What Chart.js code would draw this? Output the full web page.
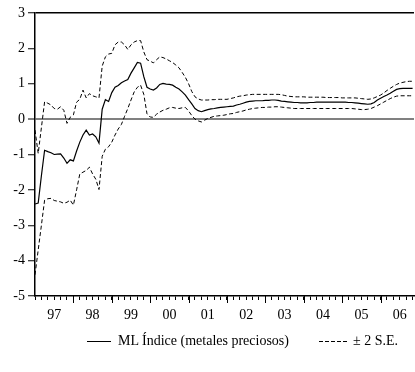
<!DOCTYPE html>
<html>
<head>
<meta charset="utf-8">
<script src="https://cdn.jsdelivr.net/npm/chart.js@4.4.1/dist/chart.umd.min.js"></script>
<style>
  html, body { margin: 0; padding: 0; background: #fff; }
  #wrap { position: relative; width: 415px; height: 372px; }
  #legend { position: absolute; right: 17px; top: 333px; display: flex; align-items: center;
            font-family: "Liberation Serif", "Times New Roman", serif; font-size: 14px; color: #000; white-space: nowrap; }
  .solid { display: inline-block; width: 24px; height: 0; border-top: 1px solid #000; margin-right: 7px; }
  .dash { display: inline-block; width: 28px; height: 1px; margin-right: 6px; margin-left: 30px;
          background: repeating-linear-gradient(to right, #000 0 4px, transparent 4px 6px); }
</style>
</head>
<body>
<div id="wrap">
  <canvas id="c" width="415" height="372"></canvas>
  <div id="legend"><span class="solid"></span><span>ML Índice (metales preciosos)</span><span class="dash"></span><span>± 2 S.E.</span></div>
</div>
<script>
// Monthly observations, 1997M01 .. 2006M11
const startYear = 1997;
const yearLabels = ["97","98","99","00","01","02","03","04","05","06"];
const yTicks = [-5,-4,-3,-2,-1,0,1,2,3];

const mlIndice = [
  -2.40,-2.37,-1.60,-0.88,-0.92,-0.95,-1.00,-0.99,-0.98,-1.10,
  -1.25,-1.15,-1.18,-0.90,-0.65,-0.45,-0.31,-0.45,-0.42,-0.50,
  -0.68, 0.28, 0.55, 0.50, 0.75, 0.90, 0.95, 1.03, 1.08, 1.12,
   1.30, 1.45, 1.60, 1.58, 1.20, 0.90, 0.85, 0.82, 0.88, 0.98,
   1.01, 0.99, 0.98, 0.96, 0.90, 0.85, 0.77, 0.68, 0.55, 0.43,
   0.30, 0.24, 0.21, 0.24, 0.27, 0.29, 0.30, 0.32, 0.33, 0.34,
   0.35, 0.36, 0.37, 0.40, 0.42, 0.45, 0.48, 0.50, 0.51, 0.52,
   0.52, 0.52, 0.53, 0.53, 0.54, 0.54, 0.53, 0.51, 0.50, 0.49,
   0.48, 0.47, 0.47, 0.46, 0.46, 0.46, 0.47, 0.47, 0.48, 0.48,
   0.48, 0.48, 0.48, 0.48, 0.48, 0.48, 0.48, 0.48, 0.47, 0.47,
   0.46, 0.45, 0.44, 0.43, 0.42, 0.43, 0.47, 0.54, 0.59, 0.64,
   0.68, 0.73, 0.79, 0.84, 0.86, 0.87, 0.87, 0.87, 0.87
];
const upperSE = [
  -0.31,-0.97,-0.24, 0.49, 0.45, 0.40, 0.30, 0.28, 0.35, 0.25,
  -0.12, 0.05, 0.12, 0.48, 0.56, 0.82, 0.60, 0.72, 0.66, 0.63,
   0.60, 1.50, 1.76, 1.84, 1.86, 2.10, 2.18, 2.18, 2.10, 1.97,
   2.10, 2.18, 2.22, 2.22, 1.90, 1.68, 1.64, 1.59, 1.68, 1.76,
   1.74, 1.70, 1.65, 1.60, 1.53, 1.45, 1.32, 1.18, 1.00, 0.78,
   0.63, 0.57, 0.54, 0.54, 0.54, 0.55, 0.55, 0.56, 0.56, 0.56,
   0.56, 0.58, 0.60, 0.63, 0.65, 0.66, 0.68, 0.69, 0.70, 0.70,
   0.70, 0.70, 0.70, 0.70, 0.70, 0.70, 0.70, 0.69, 0.67, 0.65,
   0.64, 0.63, 0.63, 0.63, 0.63, 0.62, 0.62, 0.62, 0.62, 0.62,
   0.62, 0.61, 0.61, 0.61, 0.61, 0.61, 0.60, 0.60, 0.60, 0.60,
   0.60, 0.59, 0.58, 0.57, 0.56, 0.57, 0.60, 0.64, 0.68, 0.74,
   0.81, 0.87, 0.93, 0.98, 1.02, 1.04, 1.06, 1.07, 1.07
];
const lowerSE = [
  -4.40,-3.70,-3.00,-2.29,-2.25,-2.24,-2.30,-2.32,-2.34,-2.38,
  -2.35,-2.29,-2.43,-2.00,-1.55,-1.50,-1.45,-1.36,-1.55,-1.70,
  -1.99,-1.05,-0.85,-0.78,-0.65,-0.45,-0.28,-0.15, 0.08, 0.30,
   0.54, 0.77, 0.90, 0.96, 0.70, 0.15, 0.06, 0.05, 0.14, 0.20,
   0.25, 0.28, 0.32, 0.33, 0.31, 0.30, 0.32, 0.33, 0.23, 0.10,
   0.00,-0.05,-0.08,-0.03, 0.02, 0.05, 0.08, 0.09, 0.10, 0.11,
   0.13, 0.15, 0.16, 0.19, 0.21, 0.23, 0.26, 0.28, 0.30, 0.31,
   0.32, 0.33, 0.33, 0.34, 0.34, 0.35, 0.35, 0.34, 0.33, 0.32,
   0.31, 0.30, 0.30, 0.30, 0.30, 0.30, 0.30, 0.30, 0.30, 0.30,
   0.30, 0.30, 0.30, 0.30, 0.30, 0.30, 0.30, 0.30, 0.30, 0.30,
   0.29, 0.28, 0.27, 0.27, 0.28, 0.30, 0.34, 0.38, 0.43, 0.48,
   0.53, 0.58, 0.62, 0.65, 0.66, 0.66, 0.66, 0.66, 0.66
];

const toPts = arr => arr.map((v, i) => ({ x: startYear + i / 12, y: v }));
const FONT = { family: "'Liberation Serif', 'Times New Roman', serif", size: 14 };

// taller tick marks at year boundaries
const majorTicks = {
  id: 'majorTicks',
  afterDraw(chart) {
    const xs = chart.scales.x, ctx = chart.ctx, b = chart.chartArea.bottom;
    ctx.save(); ctx.strokeStyle = '#000'; ctx.lineWidth = 1;
    for (let k = 0; k < yearLabels.length; k++) {
      const px = Math.round(xs.getPixelForValue(startYear + k)) + 0.5;
      if (px < chart.chartArea.left + 1) continue;
      ctx.beginPath(); ctx.moveTo(px, b); ctx.lineTo(px, b + 7); ctx.stroke();
    }
    ctx.restore();
  }
};

new Chart(document.getElementById('c'), {
  type: 'line',
  data: {
    datasets: [
      { label: 'ML Índice (metales preciosos)', data: toPts(mlIndice), borderColor: '#000', borderWidth: 1.2, pointRadius: 0, tension: 0, fill: false },
      { label: '+2 S.E.', data: toPts(upperSE), borderColor: '#000', borderWidth: 1, borderDash: [4, 2.5], pointRadius: 0, tension: 0, fill: false },
      { label: '-2 S.E.', data: toPts(lowerSE), borderColor: '#000', borderWidth: 1, borderDash: [4, 2.5], pointRadius: 0, tension: 0, fill: false }
    ]
  },
  options: {
    responsive: false,
    animation: false,
    events: [],
    layout: { padding: { left: 0, top: 13, right: 1, bottom: 46 } },
    plugins: { legend: { display: false }, tooltip: { enabled: false } },
    scales: {
      x: {
        type: 'linear',
        min: startYear,
        max: 2006.87,
        afterBuildTicks(scale) {
          const t = [];
          for (let k = 0; k < yearLabels.length * 6; k++) {
            const v = startYear + k / 6;
            if (v <= scale.max) t.push({ value: v });
          }
          scale.ticks = t;
        },
        afterFit(scale) { scale.height = 30; scale.paddingLeft = 0; scale.paddingRight = 0; },
        ticks: {
          autoSkip: false, maxRotation: 0, padding: 7, color: '#000', font: FONT,
          callback(value) {
            const yr = Math.floor(value + 1e-9);
            if (Math.abs(value - yr - 0.5) < 1e-6) return yearLabels[yr - startYear];
            return '';
          }
        },
        grid: { drawOnChartArea: false, drawTicks: true, tickLength: 4, tickColor: '#000', tickWidth: 1 },
        border: { display: true, color: '#000', width: 1.5 }
      },
      y: {
        min: -5, max: 3,
        afterBuildTicks(scale) { scale.ticks = yTicks.map(v => ({ value: v })); },
        afterFit(scale) { scale.width = 35; scale.paddingTop = 0; scale.paddingBottom = 0; },
        ticks: { padding: 3, color: '#000', font: FONT },
        grid: {
          drawOnChartArea: true, drawTicks: true, tickLength: 7, tickColor: '#000', tickWidth: 1,
          color: c => c.tick && c.tick.value === 3 ? '#000' : (c.tick && c.tick.value === 0 ? '#808080' : 'rgba(0,0,0,0)'),
          lineWidth: c => c.tick && c.tick.value === 0 ? 2 : 1.5
        },
        border: { display: true, color: '#000', width: 1.5 }
      }
    }
  },
  plugins: [majorTicks]
});
</script>
</body>
</html>
